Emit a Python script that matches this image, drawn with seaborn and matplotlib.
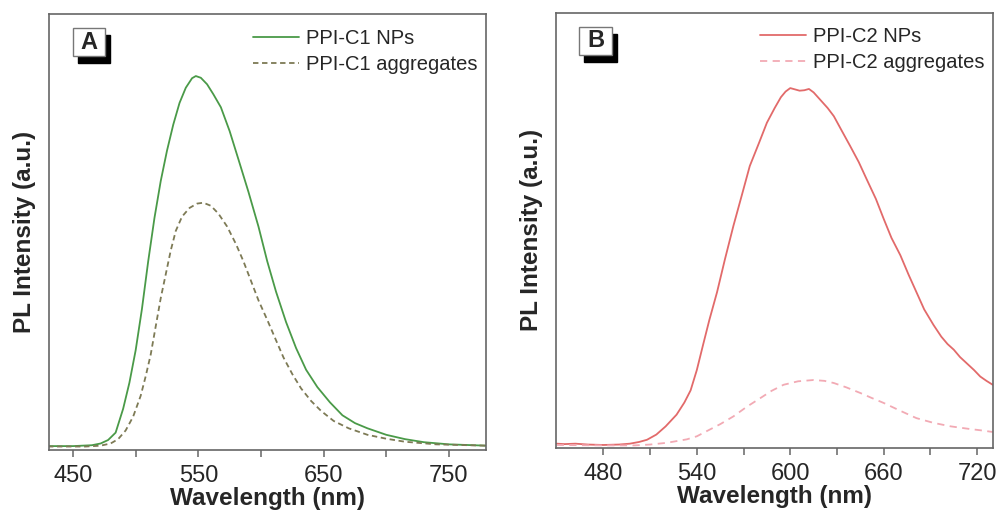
import numpy as np
import pandas as pd
import matplotlib
matplotlib.use("Agg")
import matplotlib.pyplot as plt
from matplotlib.patches import Rectangle
import seaborn as sns

# ---------------- data ----------------
a_np_wl = [430, 450, 465, 472, 478, 484, 490, 495, 500, 505, 510, 515, 520, 525, 530, 535,
           540, 545, 548, 552, 557, 562, 568, 575, 582, 590, 598, 605, 612, 620, 628, 636,
           645, 655, 665, 675, 685, 700, 715, 730, 750, 780]
a_np_int = [0.004, 0.004, 0.006, 0.010, 0.018, 0.035, 0.09, 0.15, 0.225, 0.32, 0.43, 0.53,
            0.615, 0.685, 0.745, 0.795, 0.83, 0.852, 0.857, 0.853, 0.838, 0.815, 0.785, 0.73,
            0.665, 0.59, 0.51, 0.43, 0.36, 0.29, 0.23, 0.18, 0.14, 0.105, 0.075, 0.057,
            0.045, 0.030, 0.020, 0.013, 0.008, 0.005]

a_ag_wl = [430, 460, 472, 480, 486, 492, 498, 504, 508, 512, 516, 520, 524, 528, 532, 537,
           543, 549, 554, 560, 566, 573, 580, 586, 592, 598, 605, 612, 618, 625, 632, 640,
           648, 658, 670, 685, 700, 715, 740, 780]
a_ag_int = [0.003, 0.003, 0.005, 0.010, 0.020, 0.040, 0.072, 0.12, 0.165, 0.215, 0.28, 0.345,
            0.40, 0.455, 0.50, 0.533, 0.553, 0.563, 0.565, 0.558, 0.54, 0.51, 0.47, 0.43,
            0.385, 0.34, 0.295, 0.248, 0.208, 0.17, 0.137, 0.108, 0.085, 0.062, 0.045,
            0.030, 0.021, 0.014, 0.008, 0.005]

b_np_wl = [450, 455, 462, 470, 480, 490, 497, 503, 508, 514, 520, 527, 532, 536, 540, 544,
           548, 553, 558, 563.5, 569, 574, 580, 585, 590, 594, 597, 600, 603, 606, 609, 612,
           615, 619, 624, 628, 633, 638.5, 644, 649, 655, 660, 665, 670.7, 676, 681, 686,
           692, 697, 701, 705, 709, 713.5, 718, 722, 726, 730]
b_np_int = [0.005, 0.004, 0.005, 0.003, 0.002, 0.003, 0.005, 0.009, 0.014, 0.026, 0.045,
            0.072, 0.100, 0.128, 0.175, 0.233, 0.29, 0.355, 0.43, 0.508, 0.58, 0.646, 0.70,
            0.746, 0.78, 0.805, 0.818, 0.826, 0.823, 0.82, 0.821, 0.824, 0.816, 0.80, 0.78,
            0.761, 0.728, 0.692, 0.655, 0.616, 0.57, 0.524, 0.48, 0.44, 0.395, 0.355, 0.315,
            0.279, 0.252, 0.235, 0.222, 0.205, 0.19, 0.175, 0.16, 0.15, 0.141]

b_ag_wl = [450, 480, 500, 510, 520.7, 533.6, 540, 546.4, 555, 563.5, 572, 580.7, 588, 595.7,
           605, 615, 622, 628, 636, 645, 652, 660, 670, 681, 692, 703, 715, 722, 730]
b_ag_int = [0.002, 0.001, 0.001, 0.003, 0.007, 0.015, 0.022, 0.034, 0.050, 0.068, 0.09, 0.11,
            0.127, 0.141, 0.149, 0.152, 0.15, 0.145, 0.135, 0.122, 0.111, 0.099, 0.082, 0.064,
            0.053, 0.045, 0.039, 0.036, 0.032]

a_labels = ["PPI-C1 NPs", "PPI-C1 aggregates"]
b_labels = ["PPI-C2 NPs", "PPI-C2 aggregates"]
a_ticks = [450, 550, 650, 750]
a_minor = [500, 600, 700]
b_ticks = [480, 540, 600, 660, 720]
b_minor = [510, 570, 630, 690]
panel_letters = ["A", "B"]

# ---------------- style ----------------
sns.set_style("white")
plt.rcParams["font.family"] = ["Liberation Sans", "DejaVu Sans"]

fig = plt.figure(figsize=(9.97, 5.13), dpi=100)
axA = fig.add_axes([0.0491, 0.1228, 0.4384, 0.8499])
axB = fig.add_axes([0.5574, 0.1267, 0.4383, 0.8485])

spine_col = "#666666"


def panel(ax, wl1, y1, wl2, y2, labels, colors, dashes, xlim, ticks, minor, letter):
    df = pd.concat([
        pd.DataFrame({"wl": wl1, "I": y1, "series": labels[0]}),
        pd.DataFrame({"wl": wl2, "I": y2, "series": labels[1]}),
    ])
    sns.lineplot(data=df, x="wl", y="I", hue="series", style="series",
                 palette={labels[0]: colors[0], labels[1]: colors[1]},
                 dashes={labels[0]: "", labels[1]: dashes},
                 linewidth=1.3, sort=False, ax=ax, legend=True)
    ax.set_xlim(*xlim)
    ax.set_ylim(-0.005, 1.0)
    ax.set_xticks(ticks)
    ax.set_xticks(minor, minor=True)
    ax.set_xticklabels([str(t) for t in ticks], fontsize=17)
    ax.set_yticks([])
    ax.tick_params(axis="x", which="both", direction="out", length=5, width=1.1,
                   color=spine_col, pad=6, bottom=True)
    for s in ax.spines.values():
        s.set_color(spine_col)
        s.set_linewidth(1.2)
    ax.set_xlabel("Wavelength (nm)", fontsize=17.5, fontweight="bold", labelpad=0)
    ax.set_ylabel("PL Intensity (a.u.)", fontsize=17.5, fontweight="bold", labelpad=9)
    handles, labs = ax.get_legend_handles_labels()
    ax.legend(handles, labs, loc="upper right", frameon=False, fontsize=14.5,
              handlelength=2.3, handletextpad=0.35, labelspacing=0.35,
              borderaxespad=0.0, bbox_to_anchor=(1.0, 0.985))
    # panel letter box with drop shadow
    bx, by, bw, bh = 0.054, 0.903, 0.074, 0.065
    offx, offy = 0.0115, 0.016
    ax.add_patch(Rectangle((bx + offx, by - offy), bw, bh, transform=ax.transAxes,
                           facecolor="black", edgecolor="black", zorder=5))
    ax.add_patch(Rectangle((bx, by), bw, bh, transform=ax.transAxes,
                           facecolor="white", edgecolor="#777777", linewidth=1.0, zorder=6))
    ax.text(bx + bw / 2, by + bh / 2, letter, transform=ax.transAxes, ha="center",
            va="center", fontsize=17, fontweight="bold", zorder=7)


panel(axA, a_np_wl, a_np_int, a_ag_wl, a_ag_int, a_labels,
      ["#4a9a48", "#7d7a55"], (3, 2), (430.8, 779.6), a_ticks, a_minor, panel_letters[0])
panel(axB, b_np_wl, b_np_int, b_ag_wl, b_ag_int, b_labels,
      ["#e26a6a", "#f2aab4"], (4, 3), (449.4, 730), b_ticks, b_minor, panel_letters[1])

fig.savefig("out.png", dpi=100)
